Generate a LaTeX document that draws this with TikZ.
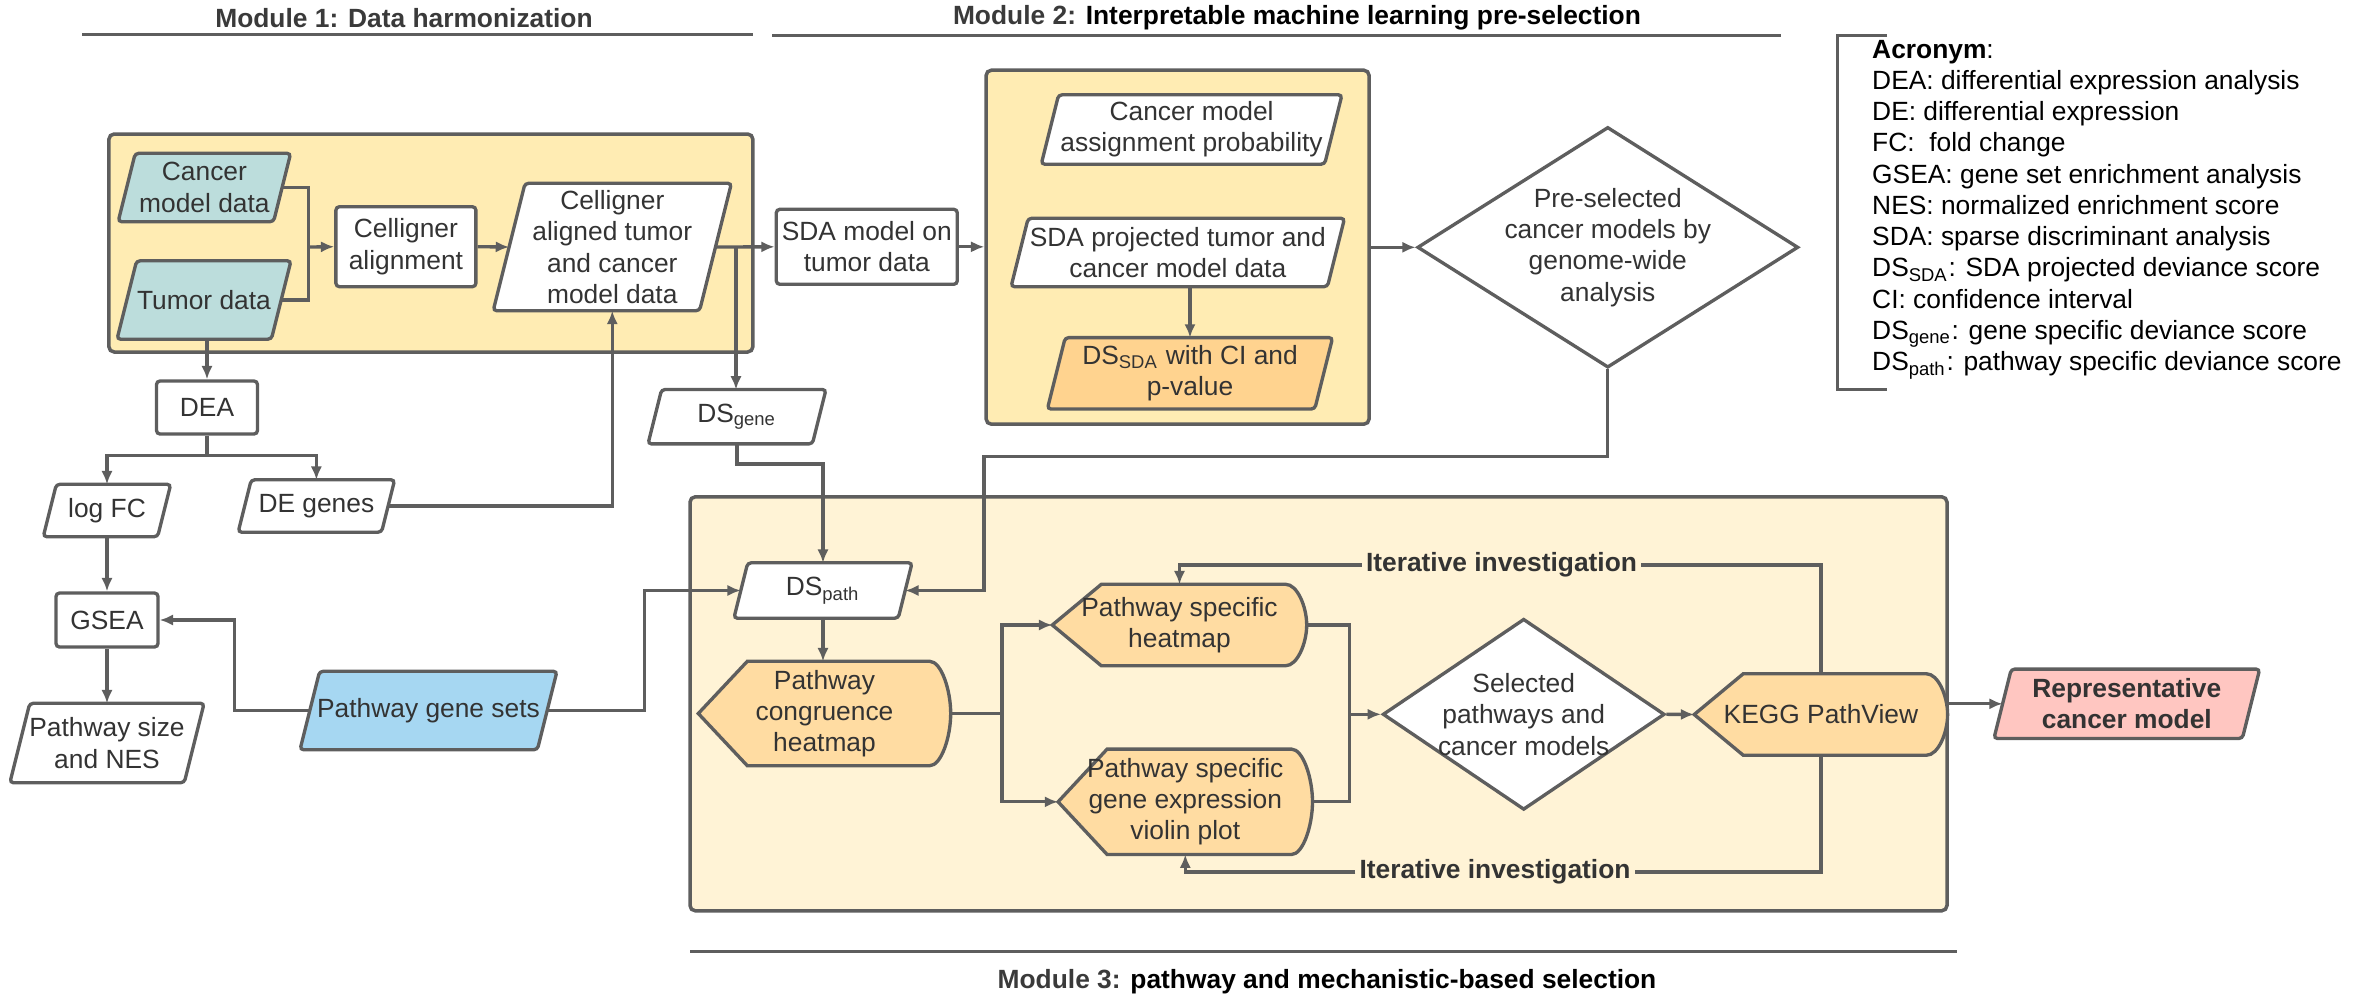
\documentclass[tikz,border=0pt]{standalone}
\usepackage{fontspec}
\setmainfont{Liberation Sans}
\usetikzlibrary{calc,arrows.meta,shapes.geometric}

\definecolor{linec}{HTML}{5E5E5E}
\definecolor{txtc}{HTML}{333333}
\definecolor{titc}{HTML}{3A3A3A}
\definecolor{boxy}{HTML}{FFECB3}
\definecolor{boxl}{HTML}{FFF3D6}
\definecolor{tealc}{HTML}{BCDDDC}
\definecolor{bluec}{HTML}{A6D7F2}
\definecolor{orngc}{HTML}{FFDCA2}
\definecolor{sdac}{HTML}{FFD38F}
\definecolor{pinkc}{HTML}{FFC6C1}

\pgfdeclarelayer{back}
\pgfdeclarelayer{mid}
\pgfsetlayers{back,mid,main}

\tikzset{
  every node/.style={font=\fontsize{7.5}{8.9}\selectfont, text=txtc, align=center, inner sep=0pt},
  proc/.style={draw=linec, line width=0.95pt, fill=white, rounded corners=1pt, inner sep=1pt},
  deci/.style={diamond, draw=linec, line width=0.95pt, fill=white, inner sep=-6pt},
  modbox/.style={draw=linec, line width=1pt, rounded corners=1.5pt},
  conn/.style={draw=linec, line width=0.95pt},
  arr/.style={conn, -{Latex[length=3.8pt,width=3.2pt]}},
  ttl/.style={font=\fontsize{7.5}{8.9}\selectfont\bfseries, text=black},
  itlab/.style={font=\fontsize{7.5}{8.9}\selectfont\bfseries, inner sep=1pt},
}

\begin{document}
\begin{tikzpicture}[x=0.1mm,y=-0.1mm]

\useasboundingbox (0,0) rectangle (2364,997);

% ----- Parameters -----
\def\dip{49}   % depth of the display tip
\def\arcr{21}  % radius of the display round end

% ----- Module boxes -----
\begin{pgfonlayer}{back}
  \node[modbox, fill=boxy, minimum width=64.4mm, minimum height=21.8mm] (m1box) at (430.9,243) {};
  \node[modbox, fill=boxy, minimum width=38.3mm, minimum height=35.4mm] (m2box) at (1177.6,247.2) {};
  \node[modbox, fill=boxl, minimum width=125.7mm, minimum height=41.4mm] (m3box) at (1318.5,703.8) {};
\end{pgfonlayer}

% ----- Titles -----
\node[ttl] (t1) at (404,18) {\color{titc}Module 1: Data harmonization};
\node[ttl] (t2) at (1297,18) {{\color{titc}Module 2:} Interpretable machine learning pre-selection};
\node[ttl] (t3) at (1327,982) {{\color{titc}Module 3:} pathway and mechanistic-based selection};

\draw[conn] (82,34.3) -- (753,34.3);
\draw[conn] (772,35.7) -- (1781,35.7);
\draw[conn] (690,951.3) -- (1957,951.3);

% ----- Module 1 -----
\node[minimum width=15.4mm, minimum height=6.7mm] (cmd) at (204.4,187.5) {Cancer\\model data};
\node[minimum width=15.3mm, minimum height=7.7mm] (tum) at (204,300) {Tumor data};
\node[proc, minimum width=14mm, minimum height=8mm] (calign) at (405.9,246.7) {Celligner\\alignment};
\node[minimum width=20.5mm, minimum height=12.6mm] (caligned) at (612.3,247) {Celligner\\aligned tumor\\and cancer\\model data};

\node[proc, minimum width=10.1mm, minimum height=5.3mm] (dea) at (207,407.5) {DEA};
\node[minimum width=11.3mm, minimum height=5.1mm] (logfc) at (107,510.5) {log FC};
\node[minimum width=14.2mm, minimum height=5.1mm] (degenes) at (316.4,506) {DE genes};
\node[proc, minimum width=10.2mm, minimum height=5.4mm] (gsea) at (107,620) {GSEA};
\node[minimum width=17.3mm, minimum height=7.8mm] (pwsize) at (107,743) {Pathway size\\and NES};
\node[minimum width=23.6mm, minimum height=7.7mm] (pgs) at (428.5,710.5) {Pathway gene sets};
\node[minimum width=16.3mm, minimum height=5.3mm] (dsgene) at (737,416.7) {DS\textsubscript{gene}};

% ----- Module 2 -----
\node[proc, minimum width=18.1mm, minimum height=7.5mm] (sdamod) at (866.8,246.8) {SDA model on\\tumor data};
\node[minimum width=28.2mm, minimum height=6.8mm] (cmap) at (1191.6,129.5) {Cancer model\\assignment probability};
\node[minimum width=31.5mm, minimum height=6.7mm] (sdaproj) at (1177.8,252.5) {SDA projected tumor and\\cancer model data};
\node[minimum width=26.6mm, minimum height=7mm] (dssda) at (1190,373.3) {DS\textsubscript{SDA} with CI and\\p-value};
\node[deci, minimum width=38.1mm, minimum height=19.3mm] (presel) at (1607.8,247.3) {Pre-selected\\cancer models by\\genome-wide\\analysis};

% ----- Module 3 -----
\node[minimum width=16.3mm, minimum height=5.4mm] (dspath) at (823,590.5) {DS\textsubscript{path}};
\node[minimum width=25.1mm, minimum height=10.3mm] (congr) at (824.5,713.5) {Pathway\\congruence\\heatmap};
\node[minimum width=25.3mm, minimum height=8mm] (pshm) at (1179.5,625) {Pathway specific\\heatmap};
\node[minimum width=25.3mm, minimum height=10.4mm] (pviol) at (1185.3,801.8) {Pathway specific\\gene expression\\violin plot};
\node[deci, minimum width=28.2mm, minimum height=19.1mm] (selp) at (1523.7,714.3) {Selected\\pathways and\\cancer models};
\node[minimum width=25.2mm, minimum height=8mm] (kegg) at (1820.9,714.5) {KEGG PathView};
\node[minimum width=24.7mm, minimum height=6.8mm] (rep) at (2126.8,703.8) {\bfseries Representative\\\bfseries cancer model};

\node[itlab] (it1) at (1501.5,565) {Iterative investigation};
\node[itlab] (it2) at (1495,872) {Iterative investigation};

% ----- Shape outlines -----
\begin{pgfonlayer}{mid}
  % parallelograms: slant of a quarter of the height
  \foreach \nm/\col in {cmd/tealc, tum/tealc, caligned/white, logfc/white, degenes/white,
      pwsize/white, pgs/bluec, dsgene/white, dspath/white, cmap/white, sdaproj/white,
      dssda/sdac, rep/pinkc} {
    \filldraw[fill=\col, draw=linec, line width=0.95pt, rounded corners=1pt]
      ($(\nm.south west)!0.125!90:(\nm.north west)$) -- ($(\nm.north west)!0.125!90:(\nm.south west)$)
      -- ($(\nm.north east)!0.125!90:(\nm.south east)$) -- ($(\nm.south east)!0.125!90:(\nm.north east)$)
      -- cycle;
  }
  % display shapes
  \foreach \nm in {congr,pshm,pviol,kegg} {
    \filldraw[fill=orngc, draw=linec, line width=0.95pt]
      (\nm.west) -- ($(\nm.north west)+(\dip,0)$) -- ($(\nm.north east)+(-\arcr,0)$)
      .. controls ($(\nm.north east)+(-0.45*\arcr,0)$) and ($(\nm.north east)!0.55!(\nm.east)$) .. (\nm.east)
      .. controls ($(\nm.south east)!0.55!(\nm.east)$) and ($(\nm.south east)+(-0.45*\arcr,0)$) .. ($(\nm.south east)+(-\arcr,0)$)
      -- ($(\nm.south west)+(\dip,0)$) -- cycle;
  }
\end{pgfonlayer}

% ----- Connectors -----
\coordinate (j1) at (308.7,247);
\draw[conn] (cmd.east) -| (j1);
\draw[conn] (tum.east) -| (j1);
\draw[arr] (j1) -- (calign.west);
\draw[arr] (calign.east) -- (caligned.west);
\draw[arr] (caligned.east) -- (sdamod.west);
\coordinate (j2) at (736,247);
\draw[arr] (j2) -- (j2 |- dsgene.north);

\draw[arr] (dea.north |- tum.south) -- (dea.north);
\draw[arr] (dea.south) -- ++(0,20) -| (logfc.north);
\draw[arr] (dea.south) -- ++(0,20) -| (degenes.north);
\draw[arr] (logfc.south) -- (gsea.north);
\draw[arr] (gsea.south) -- (pwsize.north);
\draw[arr] (degenes.east) -| (caligned.south);
\draw[arr] (pgs.west) -- ++(-75,0) |- (gsea.east);
\draw[arr] (pgs.east) -- ++(97,0) |- (dspath.west);
\draw[arr] (dsgene.south) -- ++(0,20) -| (dspath.north);

\draw[arr] (sdamod.east) -- (sdamod.east -| m2box.west);
\draw[arr] (dssda.north |- sdaproj.south) -- (dssda.north);
\draw[arr] (presel.west -| m2box.east) -- (presel.west);
\coordinate (j5) at (984.1,456.3);
\draw[arr] (presel.south) |- (j5) |- (dspath.east);

\draw[arr] (dspath.south) -- (dspath.south |- congr.north);
\coordinate (j6) at (1001.9,713.5);
\draw[conn] (congr.east) -- (j6);
\draw[arr] (j6) |- (pshm.west);
\draw[arr] (j6) |- (pviol.west);
\coordinate (j7) at (1349.2,714.3);
\draw[conn] (pshm.east) -| (j7);
\draw[conn] (pviol.east) -| (j7);
\draw[arr] (j7) -- (selp.west);
\draw[arr] (selp.east) -- (kegg.west);
\draw[conn] (kegg.north) |- (it1.east);
\draw[arr] (it1.west) -| (pshm.north);
\draw[conn] (kegg.south) |- (it2.east);
\draw[arr] (it2.west) -| (pviol.south);
\draw[arr] (kegg.east |- rep.west) -- (rep.west);

% ----- Acronyms -----
\draw[conn] (1887,35.7) -- (1837.7,35.7) -- (1837.7,389.3) -- (1887,389.3);
\node[anchor=west, align=left, text=black] (acro) at (1871.5,209.7) {\textbf{Acronym}:\\
DEA: differential expression analysis\\
DE: differential expression\\
FC:\ \ fold change\\
GSEA: gene set enrichment analysis\\
NES: normalized enrichment score\\
SDA: sparse discriminant analysis\\
DS\textsubscript{SDA}: SDA projected deviance score\\
CI: confidence interval\\
DS\textsubscript{gene}: gene specific deviance score\\
DS\textsubscript{path}: pathway specific deviance score};

\end{tikzpicture}
\end{document}
